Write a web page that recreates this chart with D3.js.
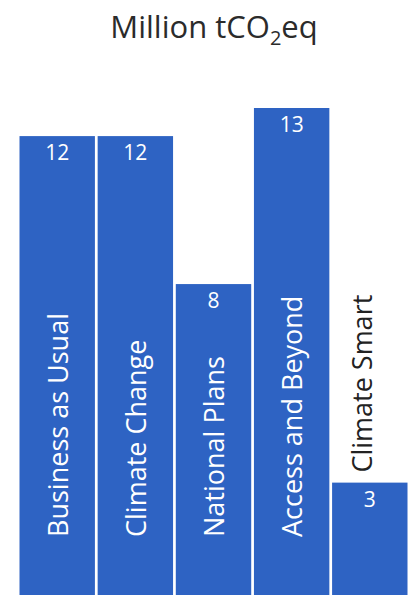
<!DOCTYPE html>
<html>
<head>
<meta charset="utf-8">
<script src="https://cdn.jsdelivr.net/npm/d3@7"></script>
<style>
  html, body { margin: 0; padding: 0; background: #ffffff; }
  svg { display: block; }
</style>
</head>
<body>
<div id="chart"></div>
<script>
const categories = ["Business as Usual", "Climate Change", "National Plans", "Access and Beyond", "Climate Smart"];
const values = [12.25, 12.25, 8.3, 13.0, 3.0];
const titleMain = "Million tCO";
const titleSub = "2";
const titleEnd = "eq";

const W = 409, H = 599;
const FONT = "'Open Sans', 'DejaVu Sans', sans-serif";
const BLUE = "#2E63C3";

const svg = d3.select("#chart").append("svg")
  .attr("width", W).attr("height", H);

const x = d3.scaleBand()
  .domain(categories)
  .range([19.5, 407.5])
  .paddingInner(0.035)
  .paddingOuter(0);

const y = d3.scaleLinear()
  .domain([0, 13])
  .range([595, 108]);

// title
const title = svg.append("text")
  .attr("x", 214).attr("y", 38)
  .attr("text-anchor", "middle")
  .attr("font-family", FONT)
  .attr("font-size", 31)
  .attr("fill", "#2b2b2b");
title.append("tspan").text(titleMain);
title.append("tspan").attr("font-size", 20).attr("dy", 7).text(titleSub);
title.append("tspan").attr("dy", -7).text(titleEnd);

const data = categories.map((c, i) => ({ c, v: values[i] }));

// bars
svg.append("g").selectAll("rect").data(data).join("rect")
  .attr("x", d => x(d.c))
  .attr("width", x.bandwidth())
  .attr("y", d => y(d.v))
  .attr("height", d => y(0) - y(d.v))
  .attr("fill", BLUE);

// value labels
svg.append("g").selectAll("text").data(data).join("text")
  .attr("x", d => x(d.c) + x.bandwidth() / 2)
  .attr("y", d => y(d.v) + 24)
  .attr("text-anchor", "middle")
  .attr("font-family", FONT)
  .attr("font-size", 21)
  .attr("fill", "#ffffff")
  .text(d => Math.round(d.v));

// category labels (rotated); inside the bar when it fits, else above it
const labelSize = 27;
svg.append("g").selectAll("text").data(data).join("text")
  .each(function(d) {
    const t = d3.select(this);
    t.attr("font-family", FONT)
     .attr("font-size", labelSize)
     .attr("text-anchor", "start")
     .attr("dy", "0.35em")
     .text(d.c);
    const len = this.getComputedTextLength();
    const cx = x(d.c) + x.bandwidth() / 2;
    const inside = (y(0) - y(d.v)) > len + 60;
    let startY, fill, px;
    if (inside) {
      startY = y(0) - 58;
      fill = "#ffffff";
      px = cx + 1;
    } else {
      startY = y(d.v) - 10;
      fill = "#222222";
      px = cx - 7;
    }
    t.attr("fill", fill)
     .attr("transform", `translate(${px},${startY}) rotate(-90)`);
  });
</script>
</body>
</html>
